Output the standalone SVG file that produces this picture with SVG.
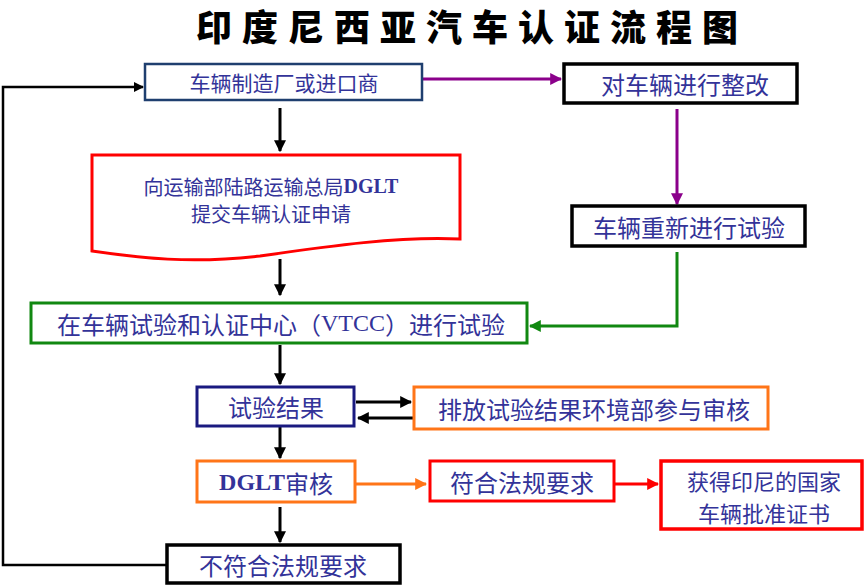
<svg xmlns="http://www.w3.org/2000/svg" width="865" height="585" viewBox="0 0 865 585">
<defs>
<style>
.t{font-family:"Noto Sans CJK SC","Noto Sans",sans-serif;fill:#333399;text-anchor:middle;dominant-baseline:central}
.s22{font-size:24px}
.s18{font-size:20px}
.s23{font-size:22px}
.lat{font-family:"Liberation Serif",serif;font-weight:bold}
.bx{fill:#fff}
.ln{fill:none;stroke-width:3}
</style>
<marker id="ak" viewBox="0 0 10 10" refX="9" refY="5" markerWidth="4" markerHeight="4" orient="auto"><path d="M0,0L10,5L0,10z" fill="#000"/></marker>
<marker id="ap" viewBox="0 0 10 10" refX="9" refY="5" markerWidth="4" markerHeight="4" orient="auto"><path d="M0,0L10,5L0,10z" fill="#8b008b"/></marker>
<marker id="ag" viewBox="0 0 10 10" refX="9" refY="5" markerWidth="4" markerHeight="4" orient="auto"><path d="M0,0L10,5L0,10z" fill="#118811"/></marker>
<marker id="ao" viewBox="0 0 10 10" refX="9" refY="5" markerWidth="4" markerHeight="4" orient="auto"><path d="M0,0L10,5L0,10z" fill="#ff7518"/></marker>
<marker id="ar" viewBox="0 0 10 10" refX="9" refY="5" markerWidth="4" markerHeight="4" orient="auto"><path d="M0,0L10,5L0,10z" fill="#ff0000"/></marker>
</defs>
<rect width="865" height="585" fill="#fff"/>
<text x="472" y="25" style="font-family:'Noto Sans CJK SC',sans-serif;font-weight:900;font-size:36px;letter-spacing:10px;text-anchor:middle;dominant-baseline:central" fill="#000">印度尼西亚汽车认证流程图</text>

<g id="connectors">
<path class="ln" d="M422,79H561" stroke="#8b008b" marker-end="url(#ap)"/>
<path class="ln" d="M677,109V204" stroke="#8b008b" marker-end="url(#ap)"/>
<path class="ln" d="M677,252V326H530" stroke="#118811" marker-end="url(#ag)"/>
<path class="ln" d="M280,108V151" stroke="#000" marker-end="url(#ak)"/>
<path class="ln" d="M280,259V295" stroke="#000" marker-end="url(#ak)"/>
<path class="ln" d="M280,345V384" stroke="#000" marker-end="url(#ak)"/>
<path class="ln" d="M356,402H411" stroke="#000" marker-end="url(#ak)"/>
<path class="ln" d="M413,418H358" stroke="#000" marker-end="url(#ak)"/>
<path class="ln" d="M280,427V458" stroke="#000" marker-end="url(#ak)"/>
<path class="ln" d="M356,484H426" stroke="#ff7518" marker-end="url(#ao)"/>
<path class="ln" d="M614,484H658" stroke="#ff0000" marker-end="url(#ar)"/>
<path class="ln" d="M280,507V542" stroke="#000" marker-end="url(#ak)"/>
<path d="M166,565H3V87H143" fill="none" stroke="#000" stroke-width="2.5" marker-end="url(#ak)"/>
</g>

<g id="n1">
<rect class="bx" x="145" y="64" width="277" height="36" stroke="#1f3f6f" stroke-width="2.5"/>
<text class="t" style="font-size:21px" x="284" y="82">车辆制造厂或进口商</text>
</g>
<g id="n2">
<rect class="bx" x="564" y="64" width="233" height="39" stroke="#000" stroke-width="3.5"/>
<text class="t s22" x="685" y="83">对车辆进行整改</text>
</g>
<g id="n3">
<path class="bx" d="M92,155H460V239C400,236 330,246 260,256C190,264 140,258 92,251Z" stroke="#ff0000" stroke-width="3"/>
<text class="t s18" x="271" y="186">向运输部陆路运输总局<tspan class="lat">DGLT</tspan></text>
<text class="t s18" x="271" y="213">提交车辆认证申请</text>
</g>
<g id="n4">
<rect class="bx" x="572" y="206" width="233" height="40" stroke="#000" stroke-width="3.5"/>
<text class="t s22" x="689" y="226">车辆重新进行试验</text>
</g>
<g id="n5">
<rect class="bx" x="31" y="303" width="496" height="40" stroke="#118811" stroke-width="3"/>
<text class="t s22" x="281" y="323">在车辆试验和认证中心（<tspan class="lat" style="font-weight:normal">VTCC</tspan>）进行试验</text>
</g>
<g id="n6">
<rect class="bx" x="197" y="387" width="157" height="39" stroke="#1a1a80" stroke-width="3"/>
<text class="t s22" x="276" y="406">试验结果</text>
</g>
<g id="n7">
<rect class="bx" x="414" y="387" width="354" height="42" stroke="#ff7518" stroke-width="3"/>
<text class="t s22" x="594" y="408">排放试验结果环境部参与审核</text>
</g>
<g id="n8">
<rect class="bx" x="197" y="461" width="158" height="41" stroke="#ff7518" stroke-width="3"/>
<text class="t s22" x="276" y="482"><tspan class="lat">DGLT</tspan>审核</text>
</g>
<g id="n9">
<rect class="bx" x="430" y="461" width="184" height="40" stroke="#ff0000" stroke-width="3"/>
<text class="t s22" x="522" y="481">符合法规要求</text>
</g>
<g id="n10">
<rect class="bx" x="661" y="461" width="201" height="68" stroke="#ff0000" stroke-width="3.5"/>
<text class="t s23" x="764" y="480">获得印尼的国家</text>
<text class="t s23" x="764" y="512">车辆批准证书</text>
</g>
<g id="n11">
<rect class="bx" x="167" y="545" width="233" height="38" stroke="#000" stroke-width="3.5"/>
<text class="t s22" x="283" y="564">不符合法规要求</text>
</g>
</svg>
